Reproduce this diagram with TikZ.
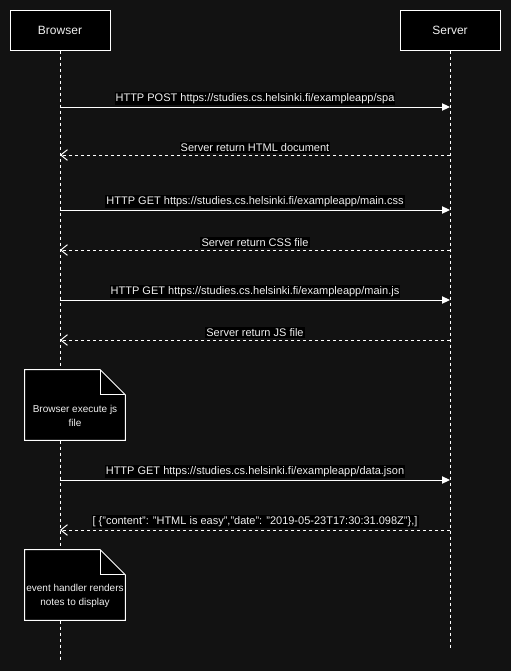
\documentclass[tikz,border=0pt]{standalone}
\usepackage{fontspec}
\setmainfont{Liberation Sans}
\usetikzlibrary{arrows.meta}

\definecolor{bgdark}{HTML}{121212}
\definecolor{fgtext}{HTML}{F0F0F0}

\begin{document}
\begin{tikzpicture}[x=0.75pt,y=-0.75pt]

\tikzset{actor/.style = {shape=rectangle,draw=white,fill=black,text=fgtext,line width=0.75pt,minimum width=75pt,minimum height=30pt,font=\fontsize{9}{11}\selectfont}}
\tikzset{lifeline/.style = {draw=white,dash pattern=on 2.25pt off 2.25pt,line width=0.75pt}}
\tikzset{call/.style = {draw=white,line width=0.75pt,-{Triangle[length=6pt,width=5.5pt,fill=white]}}}
\tikzset{reply/.style = {draw=white,line width=0.75pt,dash pattern=on 2.25pt off 2.25pt,-{Straight Barb[length=5pt,width=8pt,line width=0.75pt]}}}
\tikzset{msglabel/.style = {fill=black,text=fgtext,inner sep=0.8pt,font=\fontsize{8.25}{10}\selectfont,above=1.5pt}}
\tikzset{note/.style = {shape=rectangle,minimum width=75pt,minimum height=52.5pt,inner sep=0pt}}
\tikzset{notetext/.style = {text=fgtext,align=center,inner sep=0pt,font=\fontsize{7.5}{10.5}\selectfont}}

\fill[bgdark] (0,0) rectangle (511,671);
\useasboundingbox (0,0) rectangle (511,671);

%actors
\node[actor] (browser) at (60,30) {Browser};
\node[actor] (server) at (450,30) {Server};
\coordinate (browserend) at (60,660);
\coordinate (serverend) at (450,648);
\draw[lifeline] (browser) -- (browserend);
\draw[lifeline] (server) -- (serverend);

%points on lifelines
\foreach \n/\y in {1/107,2/155,3/210,4/250,5/300,6/340,7/480,8/530} {
  \coordinate (b\n) at (60,\y);
  \coordinate (s\n) at (450,\y);
}

%messages
\draw[call] (b1) -- (s1) node[midway,msglabel] {HTTP POST https://studies.cs.helsinki.fi/exampleapp/spa};
\draw[reply] (s2) -- (b2) node[midway,msglabel] {Server return HTML document};
\draw[call] (b3) -- (s3) node[midway,msglabel] {HTTP GET https://studies.cs.helsinki.fi/exampleapp/main.css};
\draw[reply] (s4) -- (b4) node[midway,msglabel] {Server return CSS file};
\draw[call] (b5) -- (s5) node[midway,msglabel] {HTTP GET https://studies.cs.helsinki.fi/exampleapp/main.js};
\draw[reply] (s6) -- (b6) node[midway,msglabel] {Server return JS file};
\draw[call] (b7) -- (s7) node[midway,msglabel] {HTTP GET https://studies.cs.helsinki.fi/exampleapp/data.json};
\draw[reply] (s8) -- (b8) node[midway,msglabel] {[ \{"content": "HTML is easy","date": "2019-05-23T17:30:31.098Z"\},]};

%notes
\node[note] (execnote) at (75,405) {};
\node[note] (rendernote) at (75,585) {};
\foreach \nt in {execnote,rendernote} {
  \draw[white,fill=black,line width=0.75pt] (\nt.north west) -- ([xshift=-18.75pt]\nt.north east) -- ([yshift=-18.75pt]\nt.north east) -- (\nt.south east) -- (\nt.south west) -- cycle;
  \draw[white,line width=0.75pt] ([xshift=-18.75pt]\nt.north east) -- ([xshift=-18.75pt,yshift=-18.75pt]\nt.north east) -- ([yshift=-18.75pt]\nt.north east);
}
\node[notetext] (exectext) at ([yshift=-8.25pt]execnote.center) {Browser execute js\\file};
\node[notetext] (rendertext) at ([yshift=-8.25pt]rendernote.center) {event handler renders\\notes to display};

\end{tikzpicture}
\end{document}
